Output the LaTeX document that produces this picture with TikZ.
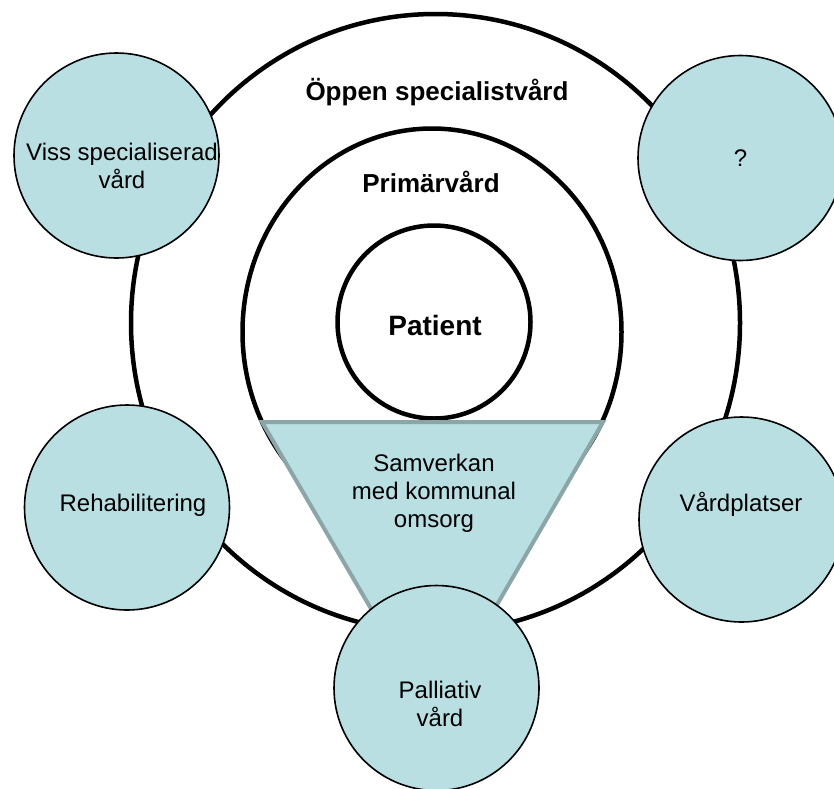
\documentclass[tikz,border=0pt]{standalone}
\usepackage{fontspec}
\setmainfont{Liberation Sans}
\usepackage{tikz}

\definecolor{bubblefill}{RGB}{185,223,227}
\definecolor{funnelline}{RGB}{140,166,168}

\begin{document}
\begin{tikzpicture}[x=1pt,y=-1pt,
	ring/.style={line width=4.5pt},
	bubble/.style={circle,draw,fill=bubblefill,line width=1.6pt,minimum size=205pt,inner sep=0pt},
	txt/.style={font=\fontsize{24}{28}\selectfont,align=center,inner sep=0pt},
	head/.style={font=\fontsize{26}{30}\selectfont\bfseries,anchor=base,inner sep=0pt}]
\useasboundingbox (0,0) rectangle (834,788);

% rings
\draw[ring] (435.5,323) ellipse [x radius=304.5pt, y radius=309pt];
\draw[ring] (432,332) ellipse [x radius=189.5pt, y radius=203.5pt];
\draw[ring] (434,322) circle (96.5pt);

% funnel
\filldraw[fill=bubblefill, draw=funnelline, line width=4pt] (262,422) -- (603,422) -- (433,715) -- cycle;

% bubbles
\foreach \x/\y/\n in {116.5/155.5/viss, 740.5/158/okand, 127/507.5/rehab, 741.5/519.5/platser, 436.5/688/palliativ}
	\node[bubble] (\n) at (\x,\y) {};

\node[head] (oppen) at (437,100.7) {Öppen specialistvård};
\node[head] (primar) at (431,192) {Primärvård};
\node[head, font=\fontsize{28}{32}\selectfont\bfseries] (patient) at (435,335) {Patient};
\node[txt] (samverkan) at (434,493) {Samverkan\\med kommunal\\omsorg};

\node[txt] (visstxt) at (122,166) {Viss specialiserad\\vård};
\node[txt] (okandtxt) at (okand) {?};
\node[txt] (rehabtxt) at (133,505) {Rehabilitering};
\node[txt] (platsertxt) at (741,504) {Vårdplatser};
\node[txt] (palliativtxt) at (440,704) {Palliativ\\vård};
\end{tikzpicture}
\end{document}
